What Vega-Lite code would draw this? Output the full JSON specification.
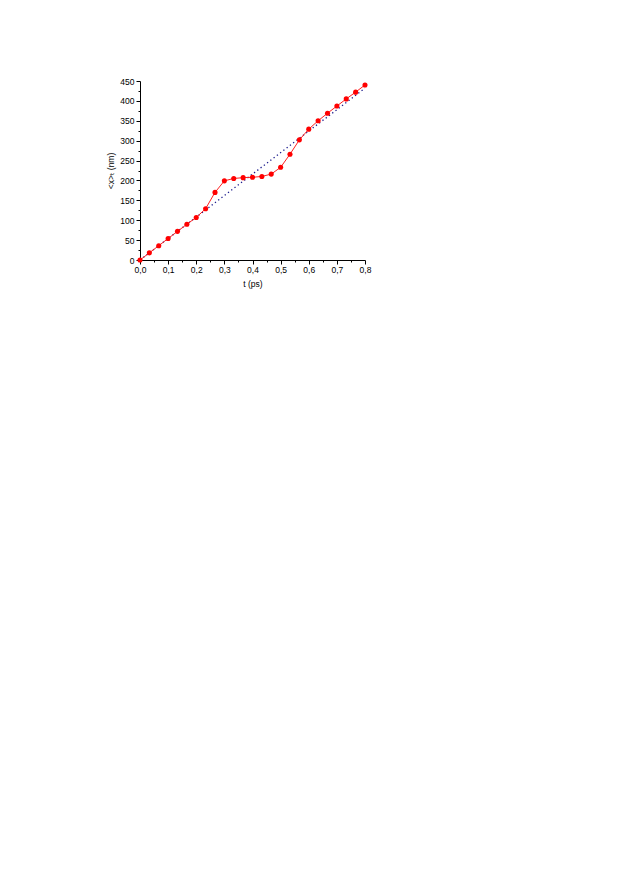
{
  "$schema": "https://vega.github.io/schema/vega-lite/v6.json",
  "autosize": {"type": "none"},
  "width": 225,
  "height": 179,
  "padding": {"left": 140, "top": 81, "right": 255, "bottom": 617},
  "background": "white",
  "config": {
    "view": {"stroke": null},
    "axis": {
      "domainColor": "black",
      "domainWidth": 1,
      "tickColor": "black",
      "labelColor": "black",
      "titleColor": "black",
      "labelFont": "Liberation Sans",
      "titleFont": "Liberation Sans, DejaVu Sans",
      "labelFontSize": 8.5,
      "titleFontSize": 8.5,
      "titleFontWeight": "normal",
      "grid": false
    }
  },
  "datasets": {
    "sim": [
      {"t": 0.0, "x": 0},
      {"t": 0.0333, "x": 18},
      {"t": 0.0667, "x": 36},
      {"t": 0.1, "x": 54},
      {"t": 0.1333, "x": 72},
      {"t": 0.1667, "x": 90},
      {"t": 0.2, "x": 107},
      {"t": 0.2333, "x": 129},
      {"t": 0.2667, "x": 170},
      {"t": 0.3, "x": 199},
      {"t": 0.3333, "x": 205},
      {"t": 0.3667, "x": 207},
      {"t": 0.4, "x": 208},
      {"t": 0.4333, "x": 210},
      {"t": 0.4667, "x": 216},
      {"t": 0.5, "x": 233},
      {"t": 0.5333, "x": 266},
      {"t": 0.5667, "x": 302},
      {"t": 0.6, "x": 329},
      {"t": 0.6333, "x": 350},
      {"t": 0.6667, "x": 369},
      {"t": 0.7, "x": 387},
      {"t": 0.7333, "x": 405},
      {"t": 0.7667, "x": 422},
      {"t": 0.8, "x": 440}
    ],
    "fit": [
      {"t": 0.0, "x": 0},
      {"t": 0.8, "x": 432}
    ]
  },
  "encoding": {
    "x": {
      "field": "t", "type": "quantitative",
      "scale": {"domain": [0, 0.8], "nice": false},
      "axis": {
        "title": "t (ps)",
        "values": [0,0.05,0.1,0.15,0.2,0.25,0.3,0.35,0.4,0.45,0.5,0.55,0.6,0.65,0.7,0.75,0.8],
        "labelExpr": "round(datum.value*100) % 10 == 0 ? replace(format(datum.value, '.1f'), '.', ',') : ''",
        "tickSize": {"condition": {"test": "round(datum.value*100) % 10 != 0", "value": 2}, "value": 4},
        "labelOverlap": false,
        "labelPadding": 1,
        "titlePadding": 6,
        "labelFlush": false
      }
    },
    "y": {
      "field": "x", "type": "quantitative",
      "scale": {"domain": [0, 450], "nice": false},
      "axis": {
        "title": "<x>ₜ (nm)",
        "values": [0,25,50,75,100,125,150,175,200,225,250,275,300,325,350,375,400,425,450],
        "labelExpr": "datum.value % 50 == 0 ? datum.label : ''",
        "tickSize": {"condition": {"test": "datum.value % 50 != 0", "value": 2}, "value": 4},
        "labelOverlap": false,
        "labelPadding": 2,
        "titlePadding": 4,
        "labelFlush": false
      }
    }
  },
  "layer": [
    {
      "data": {"name": "fit"},
      "mark": {"type": "line", "color": "#1a1a8c", "strokeWidth": 1.3, "strokeDash": [1.3, 2.8], "clip": true}
    },
    {
      "data": {"name": "sim"},
      "mark": {"type": "line", "color": "#ff2020", "strokeWidth": 1, "point": {"filled": true, "color": "#ff0000", "size": 26, "opacity": 1}}
    }
  ]
}
